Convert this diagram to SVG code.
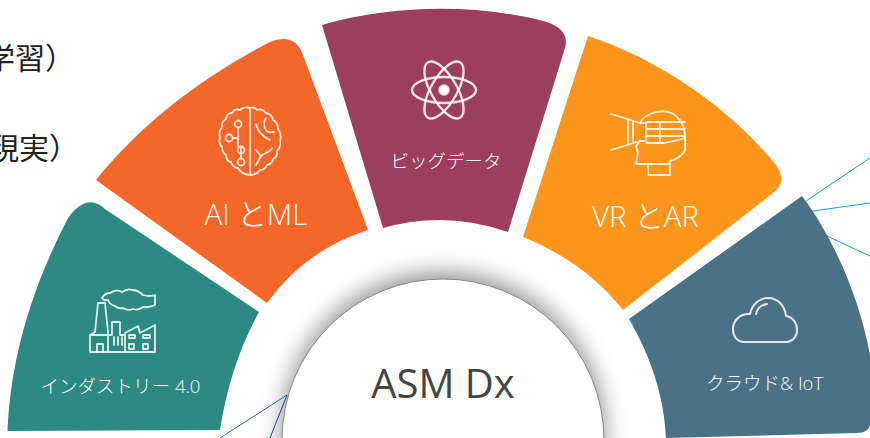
<svg xmlns="http://www.w3.org/2000/svg" width="870" height="438" viewBox="0 0 870 438">
<style>
.t{font-family:"Open Sans","Noto Sans CJK JP",sans-serif;font-weight:300;fill:#fff;text-anchor:middle}
.s{font-size:18.500px}.b{font-size:29.500px}
.i{fill:none;stroke:#fff;stroke-width:1.800;stroke-opacity:.85;stroke-linejoin:round;stroke-linecap:round}
.c{fill:none;stroke-width:1}
</style>
<defs>
<filter id="sh" x="-20%" y="-20%" width="140%" height="140%"><feGaussianBlur stdDeviation="11"/></filter>
</defs>
<rect width="870" height="438" fill="#fff"/>
<g id="labels-clipped" font-family="'Noto Sans CJK JP',sans-serif" font-size="30" fill="#222" text-anchor="end">
<text x="75" y="69">学習）</text>
<text x="79" y="159">現実）</text>
</g>
<g id="connectors">
<path class="c" stroke="#1F9BD8" d="M806 201L870 158M813 211L870 203M827 236L870 256"/>
</g>
<g id="n-center">
<circle cx="443" cy="434" r="162" fill="#000" fill-opacity=".42" filter="url(#sh)"/>
<circle cx="443" cy="440" r="161" fill="#fff" stroke="#888" stroke-width="1"/>
<text x="443" y="398" font-family="'Open Sans',sans-serif" font-size="40" fill="#444" text-anchor="middle">ASM Dx</text>
</g>
<g id="n-industry">
<path fill="#2C8A82" d="M7.500 431C11 350 36 280 68 218Q87 192 105 209L259 312Q230 365 220 430Z"/>
<g class="i">
<path d="M90 352V335L95 332L98 303H105L108 332V352M90 352H155M90 335H108M108 335H112V322H120V335H125V352M125 333L138 326L140 333L155 325V352"/>
<path d="M102 298Q105 293 110 293Q116 289 122 292Q128 288 132 290Q138 290 143 295Q149 297 155 295V305Q149 308 143 307Q138 311 133 309Q128 311 123 308Q118 309 115 306Q110 305 108 300Q104 301 102 298Z"/>
<path d="M97 352V344H103V352M114 337V345M118 337V345M122 337V345M129 335H135V338H129ZM129 344H134V349H129ZM143 335H150V338H143ZM143 344H148V349H143Z"/>
</g>
<text class="t s" x="120.500" y="393">インダストリー 4.0</text>
</g>
<g id="n-ai">
<path fill="#F56728" d="M96 180C140 125 200 78 270 42Q295 32 303 55L368 230Q305 250 267 303Z"/>
<g class="i">
<path d="M250 108V175M250 108Q244 106 240 110Q235 108 232 113Q227 113 226 119Q221 122 222 127Q218 132 220 138Q218 143 222 147Q222 153 226 155Q226 161 231 162Q233 168 238 168Q241 174 250 175Q257 175 260 170Q265 170 267 165Q272 164 273 159Q278 157 277 151Q281 147 280 141Q282 134 278 129Q278 122 273 120Q272 114 266 113Q262 108 257 110Q254 106 250 108"/>
<path d="M238 128V146M241 154V158M232 138H238M241 146V154"/>
<circle cx="238" cy="124" r="3.500"/><circle cx="229" cy="138" r="3.500"/><circle cx="241" cy="150" r="3.500"/><circle cx="241" cy="162" r="3.500"/>
<path d="M256 124C258 132 263 137 270 140M266 118C262 124 264 134 274 132M256 150L261 156L256 165M272 148C270 153 265 152 261 156"/>
</g>
<text class="t b" x="256" y="225">AI とML</text>
</g>
<g id="n-bigdata">
<path fill="#9C3F5F" d="M322 25C395 4 480 4 547 22Q570 30 565 48L508 232Q445 210 383 228Z"/>
<g class="i" style="stroke-width:2.400">
<ellipse cx="444" cy="90" rx="32" ry="13"/>
<ellipse cx="444" cy="90" rx="32" ry="13" transform="rotate(60 444 90)"/>
<ellipse cx="444" cy="90" rx="32" ry="13" transform="rotate(-60 444 90)"/>
<circle cx="444" cy="90" r="4.500" fill="#fff"/>
</g>
<text class="t s" x="446" y="168">ビッグデータ</text>
</g>
<g id="n-vr">
<path fill="#FB951B" d="M588 36C660 60 725 105 772 160Q790 180 773 193L623 310Q585 262 523 237Z"/>
<g class="i">
<path d="M611 114L640 123M611 150L640 141M628 119V145M633 122V141M640 123H644M640 141H644"/>
<path d="M640 123C645 112 668 106 678 118C684 124 686 132 685 150M646 122V141M646 122H685M646 129H685M646 136H685M646 143H665C672 141 680 140 685 138M660 122V143"/>
<path d="M640 141L636 146L638 153L636 164H648V175H670V161C677 159 683 155 685 150M648 164H670"/>
</g>
<text class="t b" x="645.500" y="227">VR とAR</text>
</g>
<g id="n-cloud">
<path fill="#4A7185" d="M802 196C835 240 860 300 870 355V425Q868 433 857 433L666 438C664 395 650 355 629 319Z"/>
<g class="i" style="stroke-width:2">
<path d="M744 342C737 342 733 336 733 329C733 320 741 313 750 314C752 304 760 298 768 298C778 298 785 306 786 316C793 317 797 323 797 330C797 337 792 342 786 342Z"/>
<path d="M756 314C757 308 761 305 767 304"/>
</g>
<text class="t s" x="764.500" y="390">クラウド&amp; IoT</text>
</g>
<g id="connectors-left">
<path class="c" stroke="#2A6CC0" d="M287 395L220 438"/>
<path class="c" stroke="#1F3F9F" d="M287 395L270 438"/>
</g>
</svg>
